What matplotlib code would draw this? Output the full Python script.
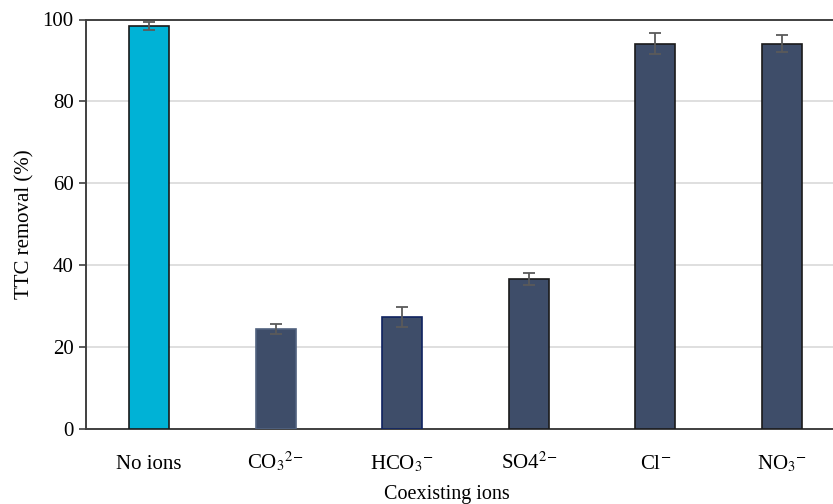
import matplotlib
matplotlib.use("Agg")
import matplotlib.pyplot as plt
import numpy as np

plt.rcParams['font.family'] = ['Liberation Serif', 'DejaVu Serif']
plt.rcParams['mathtext.fontset'] = 'stix'

categories = ["No ions", r"CO$_3$$^{2\!-}$", r"HCO$_3$$^{-}$", r"SO4$^{2\!-}$", r"Cl$^{-}$", r"NO$_3$$^{-}$"]
removal = [98.5, 24.4, 27.3, 36.6, 94.1, 94.1]
errors = [1.0, 1.3, 2.4, 1.5, 2.5, 2.0]
face_colors = ["#00B2D6", "#3E4D69", "#3E4D69", "#3E4D69", "#3E4D69", "#3E4D69"]
edge_colors = ["#1A1A1A", "#51627F", "#0F2260", "#1A1A1A", "#1A1A1A", "#1A1A1A"]

fig = plt.figure(figsize=(8.33, 5.04), dpi=100)
ax = fig.add_axes([86 / 833, 75 / 504, 759 / 833, 409.5 / 504])

x = np.arange(len(categories))
ax.bar(x, removal, width=0.316, color=face_colors, edgecolor=edge_colors,
       linewidth=1.2, zorder=3)
ax.errorbar(x, removal, yerr=errors, fmt='none', ecolor="#5A5A5A",
            elinewidth=1.3, capsize=4, capthick=1.3, zorder=4)

ax.set_xlim(-0.5, len(categories) - 0.5)
ax.set_ylim(0, 100)
ax.set_yticks([0, 20, 40, 60, 80, 100])
ax.yaxis.grid(True, color="#D9D9D9", linewidth=1.2, zorder=0)
ax.set_axisbelow(True)

ax.set_xticks(x)
ax.set_xticklabels(categories, fontsize=15, va='baseline')
ax.tick_params(axis='x', length=0, pad=29)
ax.tick_params(axis='y', labelsize=15, length=5, width=1.2, color="#404040", pad=4)

ax.spines['right'].set_visible(False)
for side in ['left', 'bottom', 'top']:
    ax.spines[side].set_color("#404040")
    ax.spines[side].set_linewidth(1.4)

ax.set_ylabel("TTC removal (%)", fontsize=15)
ax.set_xlabel("Coexisting ions", fontsize=14.5)
ax.xaxis.set_label_coords(0.476, -0.136)
ax.yaxis.set_label_coords(-0.068, 0.5)

fig.savefig("out.png", dpi=100)
